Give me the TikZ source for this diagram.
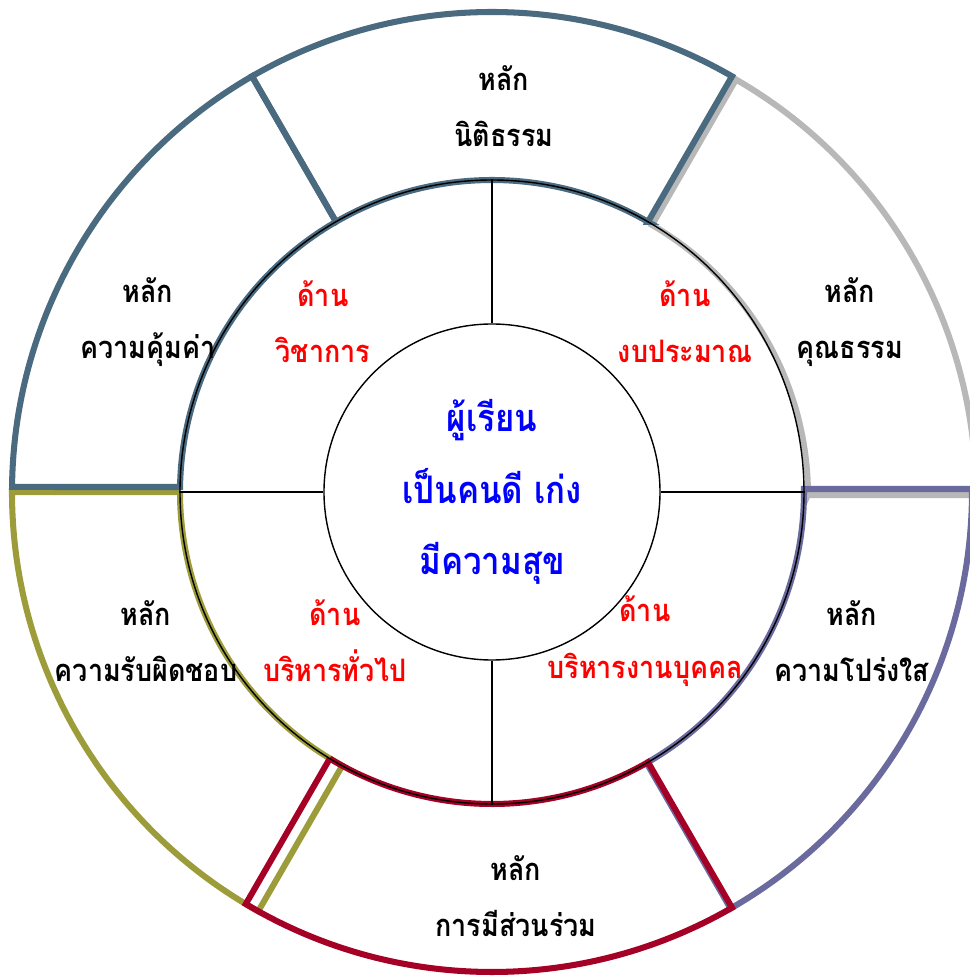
\documentclass[tikz,border=0pt]{standalone}
\usepackage{fontspec}
\newfontfamily\thaifont[Script=Thai,FakeStretch=0.87]{Loma}
\usetikzlibrary{positioning}

\definecolor{slate}{HTML}{4A6A80}
\definecolor{silver}{HTML}{B8B8B8}
\definecolor{violet}{HTML}{6A6A9E}
\definecolor{crimson}{HTML}{A50026}
\definecolor{olive}{HTML}{9C9C3A}

\begin{document}
\begin{tikzpicture}[
    sector/.style    = {line width=4.3pt, line join=miter},
    divider/.style   = {line width=1pt},
    principle/.style = {align=center, font=\thaifont\bfseries\fontsize{22}{40}\selectfont},
    aspect/.style    = {align=center, text=red, font=\thaifont\bfseries\fontsize{22}{40}\selectfont},
    goal/.style      = {circle, draw, line width=1pt, minimum size=8.4cm, align=center,
                        text=blue, font=\thaifont\bfseries\fontsize{27}{51}\selectfont},
    ring/.style      = {circle, draw, line width=1pt, minimum size=15.6cm}
]
\useasboundingbox (-12.3,-12.1) rectangle (11.925,12.3);

% --- Outer ring: six principles ---------------------------------------------
\draw[sector, silver, xshift=0.1cm, yshift=-0.08cm]
  (0:7.8) -- (0:12) arc[start angle=0, end angle=60, radius=12]
  -- (60:7.8) arc[start angle=60, end angle=0, radius=7.8] -- cycle;
\draw[sector, violet]
  (299.7:7.8) -- (299.8:12) arc[start angle=299.8, end angle=360.36, radius=12]
  -- (360.55:7.8) arc[start angle=360.55, end angle=299.7, radius=7.8] -- cycle;
\draw[sector, olive]
  (180:7.8) -- (180:12) arc[start angle=180, end angle=240.86, radius=12]
  -- (241.32:7.8) arc[start angle=241.32, end angle=180, radius=7.8] -- cycle;
\draw[sector, crimson]
  (238.68:7.8) -- (239.14:12) arc[start angle=239.14, end angle=300, radius=12]
  -- (300:7.8) arc[start angle=300, end angle=238.68, radius=7.8] -- cycle;
\draw[sector, slate]
  (120:7.8) -- (120:12) arc[start angle=120, end angle=179.4, radius=12]
  -- (179.08:7.8) arc[start angle=179.08, end angle=120, radius=7.8] -- cycle;
\draw[sector, slate]
  (60:7.8) -- (60:12) arc[start angle=60, end angle=120, radius=12]
  -- (120:7.8) arc[start angle=120, end angle=60, radius=7.8] -- cycle;

% --- Middle ring and core ---------------------------------------------------
\node[ring] (ring) at (0,0) {};
\node[goal] (core) at (0,0) {ผู้เรียน\\เป็นคนดี เก่ง\\มีความสุข};

\draw[divider] (core.east)  -- (ring.east);
\draw[divider] (core.north) -- (ring.north);
\draw[divider] (core.west)  -- (ring.west);
\draw[divider] (core.south) -- (ring.south);

% --- Aspects (middle ring) --------------------------------------------------
\node[aspect] (academic) at (-4.225,4.25)  {ด้าน\\วิชาการ};
\node[aspect] (budget)   at (4.825,4.25)   {ด้าน\\งบประมาณ};
\node[aspect] (general)  at (-3.925,-3.725) {ด้าน\\บริหารทั่วไป};
\node[aspect] (staff)    at (3.825,-3.725)  {ด้าน\\บริหารงานบุคคล};

% --- Principles (outer ring) ------------------------------------------------
\node[principle] (rule)    at (0.3,9.65)    {หลัก\\นิติธรรม};
\node[principle] (virtue)  at (8.95,4.25)   {หลัก\\คุณธรรม};
\node[principle] (worth)   at (-8.6,4.25)   {หลัก\\ความคุ้มค่า};
\node[principle] (duty)    at (-8.65,-3.725) {หลัก\\ความรับผิดชอบ};
\node[principle] (clear)   at (9.0,-3.725)  {หลัก\\ความโปร่งใส};
\node[principle] (partake) at (0.6,-10.1)   {หลัก\\การมีส่วนร่วม};

\end{tikzpicture}
\end{document}
